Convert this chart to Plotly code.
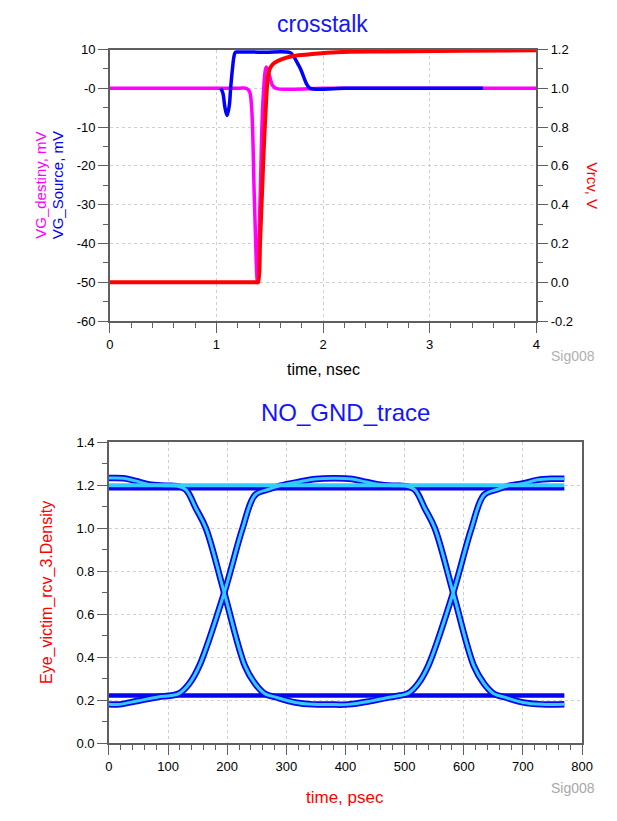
import plotly.graph_objects as go

W, H = 617, 821

# ---------------- crosstalk (top) data ----------------
src_t = [1.04, 1.06, 1.08, 1.10, 1.12, 1.133, 1.15, 1.165, 1.178, 1.20, 1.45, 1.69, 1.72, 1.75, 1.789, 1.82, 1.85, 1.88, 2.2, 3.5]
src_v = [0.0, -1.2, -5.0, -7.0, -4.5, 0.0, 5.0, 8.3, 9.3, 9.35, 9.3, 9.2, 8.4, 7.0, 5.0, 2.8, 0.9, 0.0, 0.0, 0.0]

dst_t = [0.0, 0.6, 1.2, 1.28, 1.31, 1.33, 1.355, 1.385, 1.41, 1.438, 1.468, 1.50, 1.525, 1.56, 2.0, 3.0, 4.0]
dst_v = [0.0, 0.0, 0.0, 0.0, -0.8, -5.0, -27.8, -50.0, -27.8, -2.5, 5.5, 3.0, 0.8, 0.0, 0.0, 0.0, 0.0]

rcv_t = [0.0, 0.7, 1.2, 1.38, 1.39, 1.41, 1.438, 1.46, 1.484, 1.50, 1.53, 1.575, 1.65, 1.728, 1.877, 2.125, 2.6, 3.3, 4.0]
rcv_v = [0.0, 0.0, 0.0, 0.0, 0.0, 0.22, 0.61, 0.87, 1.066, 1.10, 1.125, 1.141, 1.157, 1.167, 1.175, 1.186, 1.19, 1.193, 1.196]

top_x_ticks = [0, 1, 2, 3, 4]
top_yl_ticks = [10, 0, -10, -20, -30, -40, -50, -60]
top_yl_text = ["10", "-0", "-10", "-20", "-30", "-40", "-50", "-60"]
top_yr_ticks = [1.2, 1.0, 0.8, 0.6, 0.4, 0.2, 0.0, -0.2]
top_yr_text = ["1.2", "1.0", "0.8", "0.6", "0.4", "0.2", "0.0", "-0.2"]

# ---------------- eye diagram (bottom) data ----------------
eye_flat_t = [0, 770]
eye_hi_blue = [1.184, 1.184]
eye_hi_cyan = [1.200, 1.200]
eye_lo_blue = [0.222, 0.222]

# path A: upper bump -> fall -> lower dip -> rise -> upper bump
eyeA_t = [0, 25, 45, 68, 95, 115, 130, 147, 164, 195, 230, 247, 263, 285, 315, 345, 375,
          405, 440, 470, 492, 506, 523, 540, 582, 613, 634, 656, 677, 700, 725, 750, 770]
eyeA_v = [1.233, 1.232, 1.220, 1.203, 1.198, 1.196, 1.18, 1.093, 1.0, 0.70, 0.36, 0.278, 0.232, 0.212, 0.19, 0.181, 0.180,
          0.181, 0.195, 0.212, 0.222, 0.232, 0.278, 0.361, 0.70, 1.0, 1.154, 1.18, 1.198, 1.208, 1.225, 1.230, 1.230]

# path B: lower dip -> rise -> upper bump -> fall -> lower dip
eyeB_t = [0, 18, 50, 83, 105, 119, 136, 153, 195, 226, 247, 269, 290, 320, 350, 380, 411,
          435, 455, 480, 502, 517, 534, 551, 582, 617, 634, 650, 672, 700, 732, 770]
eyeB_v = [0.181, 0.181, 0.198, 0.215, 0.222, 0.232, 0.278, 0.361, 0.70, 1.0, 1.154, 1.18, 1.198, 1.215, 1.229, 1.232, 1.229,
          1.215, 1.204, 1.198, 1.196, 1.18, 1.093, 1.0, 0.70, 0.36, 0.278, 0.232, 0.212, 0.19, 0.181, 0.181]

eye_x_ticks = [0, 100, 200, 300, 400, 500, 600, 700, 800]
eye_y_ticks = [0.0, 0.2, 0.4, 0.6, 0.8, 1.0, 1.2, 1.4]

BLUE = "#0000FF"
EYE_BLUE = "#0505EE"
CYAN = "#33CCFF"
MAG = "#FF00FF"
RED = "#FF0000"
AXC = "#5F5F5F"
GRID = "#CFCFCF"
FONT = "Liberation Sans, Arial, sans-serif"

fig = go.Figure()

spl = dict(shape="spline", smoothing=1.0)

fig.add_trace(go.Scatter(x=rcv_t, y=rcv_v, mode="lines", xaxis="x", yaxis="y2",
                         line=dict(color=RED, width=4, **spl), showlegend=False, hoverinfo="skip"))
fig.add_trace(go.Scatter(x=dst_t, y=dst_v, mode="lines", xaxis="x", yaxis="y",
                         line=dict(color=MAG, width=3.5, **spl), showlegend=False, hoverinfo="skip"))
fig.add_trace(go.Scatter(x=src_t, y=src_v, mode="lines", xaxis="x", yaxis="y",
                         line=dict(color=BLUE, width=3.5, **spl), showlegend=False, hoverinfo="skip"))

# eye: blue layers first
for yy, w in [(eye_hi_blue, 3.5), (eye_lo_blue, 4.5)]:
    fig.add_trace(go.Scatter(x=eye_flat_t, y=yy, mode="lines", xaxis="x2", yaxis="y3",
                             line=dict(color=EYE_BLUE, width=w), showlegend=False, hoverinfo="skip"))
for tt, vv in [(eyeA_t, eyeA_v), (eyeB_t, eyeB_v)]:
    fig.add_trace(go.Scatter(x=tt, y=vv, mode="lines", xaxis="x2", yaxis="y3",
                             line=dict(color=EYE_BLUE, width=6.5, **spl), showlegend=False, hoverinfo="skip"))
fig.add_trace(go.Scatter(x=eye_flat_t, y=eye_hi_cyan, mode="lines", xaxis="x2", yaxis="y3",
                         line=dict(color=CYAN, width=4), showlegend=False, hoverinfo="skip"))
for tt, vv in [(eyeA_t, eyeA_v), (eyeB_t, eyeB_v)]:
    fig.add_trace(go.Scatter(x=tt, y=vv, mode="lines", xaxis="x2", yaxis="y3",
                             line=dict(color=CYAN, width=3, **spl), showlegend=False, hoverinfo="skip"))

tickfont = dict(family=FONT, size=13, color="black")
common = dict(showline=True, linecolor=AXC, linewidth=1.6, ticks="outside", ticklen=10,
              tickwidth=1.3, tickcolor=AXC, tickfont=tickfont, zeroline=False,
              gridcolor=GRID, griddash="dot", gridwidth=1)

def px(x):
    return x / W

def py(y):
    return 1 - y / H

fig.update_layout(
    width=W, height=H, margin=dict(l=0, r=0, t=0, b=0),
    paper_bgcolor="white", plot_bgcolor="white", showlegend=False,
    xaxis=dict(domain=[px(108.5), px(545.5)], anchor="y", range=[0, 4], tickvals=top_x_ticks,
               mirror=True, showgrid=True,
               minor=dict(dtick=0.2, ticklen=5, tickcolor=AXC, ticks="outside", showgrid=False),
               **common),
    yaxis=dict(domain=[py(320), py(43.3)], anchor="x", range=[-60, 10], tickvals=top_yl_ticks,
               ticktext=top_yl_text, showgrid=True,
               minor=dict(dtick=5, ticklen=5, tickcolor=AXC, ticks="outside", showgrid=False),
               **common),
    yaxis2=dict(overlaying="y", side="right", anchor="x", range=[-0.2, 1.2], tickvals=top_yr_ticks,
                ticktext=top_yr_text, showgrid=False,
                minor=dict(dtick=0.1, ticklen=5, tickcolor=AXC, ticks="outside", showgrid=False),
                **{k: v for k, v in common.items() if k not in ("gridcolor", "griddash", "gridwidth")}),
    xaxis2=dict(domain=[px(107.5), px(592.5)], anchor="y3", range=[0, 800], tickvals=eye_x_ticks,
                mirror=True, showgrid=True,
                minor=dict(dtick=20, ticklen=5, tickcolor=AXC, ticks="outside", showgrid=False),
                **common),
    yaxis3=dict(domain=[py(750), py(443.3)], anchor="x2", range=[0, 1.4], tickvals=eye_y_ticks,
                tickformat=".1f", mirror=True, showgrid=True,
                minor=dict(dtick=0.1, ticklen=5, tickcolor=AXC, ticks="outside", showgrid=False),
                **common),
)

def ann(text, x, y, size, color, angle=0):
    return dict(text=text, x=px(x), y=py(y), xref="paper", yref="paper", showarrow=False,
                xanchor="center", yanchor="middle", textangle=angle,
                font=dict(family=FONT, size=size, color=color))

annotations = [
    ann("crosstalk", 326, 17, 23, "#1414FF"),
    ann("NO_GND_trace", 350, 413, 24, "#1414FF"),
    ann("time, nsec", 327, 369, 16, "black"),
    ann("time, psec", 350, 805, 17, RED),
    ann("VG_destiny, mV", 38, 182, 15, MAG, -90),
    ann("VG_Source, mV", 55, 182, 15, BLUE, -90),
    ann("Vrcv, V", 603, 182, 15, RED, 90),
    ann("Eye_victim_rcv_3.Density", 44, 596, 16, RED, -90),
    ann("Sig008", 583, 356, 14, "#B0B0B0"),
    ann("Sig008", 583, 796, 14, "#A8A8A8"),
]
fig.update_layout(annotations=annotations)

fig.write_html(
    "out.html",
    config={"displayModeBar": False},
    post_script="document.body.style.margin='0px';document.body.style.padding='0px';"
                "document.documentElement.style.overflow='hidden';",
)
